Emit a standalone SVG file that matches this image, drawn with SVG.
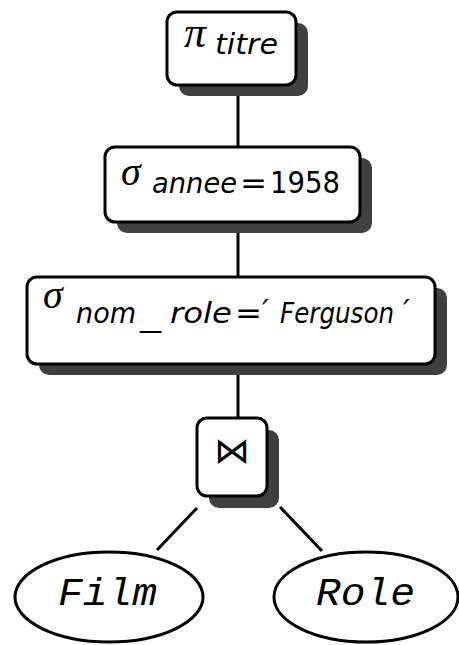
<svg xmlns="http://www.w3.org/2000/svg" width="459" height="645" viewBox="0 0 459 645">
  <style>
    .box { fill: #ffffff; stroke: #000000; stroke-width: 3; }
    .shadow { fill: #404040; }
    .edge { stroke: #000000; stroke-width: 3; fill: none; }
    .rel { fill: #ffffff; stroke: #000000; stroke-width: 3; }
    .greek { font-family: "Liberation Serif", "DejaVu Serif", serif; font-style: italic; fill: #000; }
    .sub { font-family: "DejaVu Sans", "Liberation Sans", sans-serif; font-style: oblique; fill: #000; }
    .up { font-family: "DejaVu Sans", "Liberation Sans", sans-serif; fill: #000; }
    .tt { font-family: "Liberation Mono", "DejaVu Sans Mono", monospace; font-style: italic; fill: #000; }
  </style>

  <!-- connectors -->
  <g id="edges">
    <line class="edge" x1="238" y1="85" x2="238" y2="147"/>
    <line class="edge" x1="238" y1="222" x2="238" y2="277"/>
    <line class="edge" x1="238" y1="365" x2="238" y2="418"/>
    <line class="edge" x1="197" y1="508" x2="157" y2="550"/>
    <line class="edge" x1="280" y1="507" x2="322" y2="551"/>
  </g>

  <!-- projection on titre -->
  <g id="proj">
    <rect class="shadow" x="179" y="23" width="129" height="73" rx="10"/>
    <rect class="box" x="167" y="12" width="129" height="73" rx="10"/>
    <text class="greek" x="184" y="47" font-size="44">π</text>
    <text class="sub" x="215" y="54" font-size="28" textLength="63" lengthAdjust="spacingAndGlyphs">titre</text>
  </g>

  <!-- selection on annee -->
  <g id="sel-annee">
    <rect class="shadow" x="117" y="158" width="255" height="75" rx="10"/>
    <rect class="box" x="105" y="147" width="255" height="75" rx="10"/>
    <text class="greek" x="121" y="185" font-size="40">σ</text>
    <text class="sub" x="152" y="193" font-size="28" textLength="85" lengthAdjust="spacingAndGlyphs">annee</text>
    <text class="up" x="240" y="193" font-size="30" textLength="27" lengthAdjust="spacingAndGlyphs">=</text>
    <text class="up" x="270" y="193" font-size="30" textLength="70" lengthAdjust="spacingAndGlyphs">1958</text>
  </g>

  <!-- selection on nom_role -->
  <g id="sel-role">
    <rect class="shadow" x="39" y="288" width="408" height="87" rx="10"/>
    <rect class="box" x="27" y="277" width="408" height="87" rx="10"/>
    <text class="greek" x="43" y="308" font-size="40">σ</text>
    <text class="sub" x="76" y="323" font-size="28" textLength="60" lengthAdjust="spacingAndGlyphs">nom</text>
    <text class="sub" x="140" y="326" font-size="28" textLength="21" lengthAdjust="spacingAndGlyphs">_</text>
    <text class="sub" x="170" y="323" font-size="28" textLength="62" lengthAdjust="spacingAndGlyphs">role</text>
    <text class="up" x="235" y="323" font-size="30" textLength="27" lengthAdjust="spacingAndGlyphs">=</text>
    <text class="sub" x="262" y="321" font-size="30">′</text>
    <text class="sub" x="280" y="323" font-size="28" textLength="114" lengthAdjust="spacingAndGlyphs">Ferguson</text>
    <text class="sub" x="403" y="321" font-size="30">′</text>
  </g>

  <!-- natural join -->
  <g id="join">
    <rect class="shadow" x="209" y="430" width="70" height="78" rx="10"/>
    <rect class="box" x="197" y="418" width="70" height="78" rx="10"/>
    <text class="up" x="232" y="463" font-size="36" text-anchor="middle">⋈</text>
  </g>

  <!-- base relations -->
  <g id="film">
    <ellipse class="rel" cx="109" cy="597" rx="94" ry="45"/>
    <text class="tt" x="58" y="605" font-size="38" textLength="99" lengthAdjust="spacingAndGlyphs">Film</text>
  </g>
  <g id="role">
    <ellipse class="rel" cx="366" cy="597" rx="92" ry="45"/>
    <text class="tt" x="316" y="605" font-size="38" textLength="99" lengthAdjust="spacingAndGlyphs">Role</text>
  </g>
</svg>
